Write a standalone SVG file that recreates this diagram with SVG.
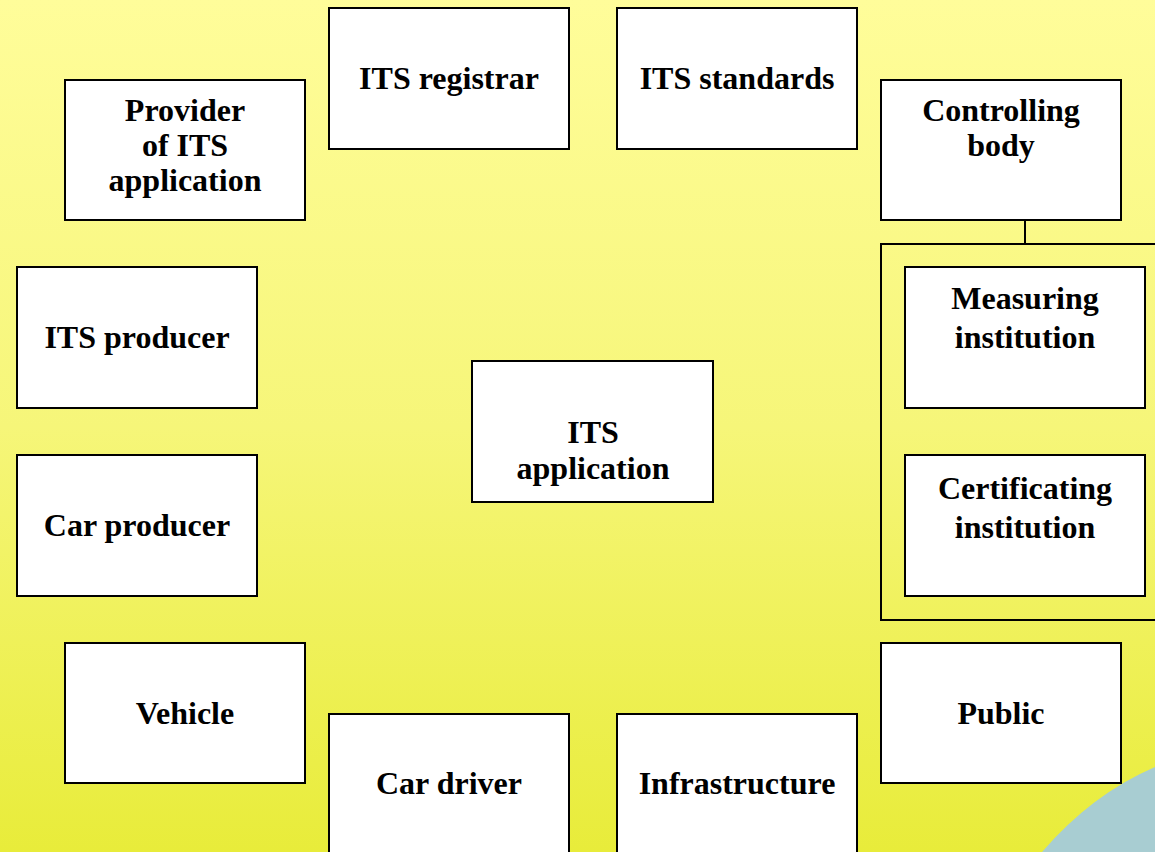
<svg xmlns="http://www.w3.org/2000/svg" width="1155" height="852" viewBox="0 0 1155 852">
<defs>
<linearGradient id="bg" x1="0" y1="0" x2="0" y2="1">
<stop offset="0" stop-color="#fffd9a"/>
<stop offset="0.5" stop-color="#f6f679"/>
<stop offset="1" stop-color="#e8ec3a"/>
</linearGradient>
<style>
.box{fill:#ffffff;stroke:#000000;stroke-width:2}
.grp{fill:none;stroke:#000000;stroke-width:2}
.t{font-family:"Liberation Serif","Times New Roman",serif;font-weight:bold;font-size:32px;fill:#000000;text-anchor:middle}
.c{fill:none;stroke:#000000;stroke-width:2}
</style>
</defs>
<rect x="0" y="0" width="1155" height="852" fill="url(#bg)"/>
<path d="M1042,852 Q1092,794 1155,767 L1155,852 Z" fill="#a8cdd2"/>
<g id="connectors">
<line class="c" x1="1025" y1="220" x2="1025" y2="244"/>
</g>
<g id="group-institutions">
<rect class="grp" x="881" y="244" width="290" height="376"/>
</g>
<g id="provider">
<rect class="box" x="65" y="80" width="240" height="140"/>
<text class="t" x="185" y="121">Provider</text>
<text class="t" x="185" y="156">of ITS</text>
<text class="t" x="185" y="191">application</text>
</g>
<g id="registrar">
<rect class="box" x="329" y="8" width="240" height="141"/>
<text class="t" x="449" y="89">ITS registrar</text>
</g>
<g id="standards">
<rect class="box" x="617" y="8" width="240" height="141"/>
<text class="t" x="737" y="89">ITS standards</text>
</g>
<g id="controlling">
<rect class="box" x="881" y="80" width="240" height="140"/>
<text class="t" x="1001" y="121">Controlling</text>
<text class="t" x="1001" y="156">body</text>
</g>
<g id="measuring">
<rect class="box" x="905" y="267" width="240" height="141"/>
<text class="t" x="1025" y="309">Measuring</text>
<text class="t" x="1025" y="348">institution</text>
</g>
<g id="certificating">
<rect class="box" x="905" y="455" width="240" height="141"/>
<text class="t" x="1025" y="499">Certificating</text>
<text class="t" x="1025" y="538">institution</text>
</g>
<g id="its-producer">
<rect class="box" x="17" y="267" width="240" height="141"/>
<text class="t" x="137" y="348">ITS producer</text>
</g>
<g id="car-producer">
<rect class="box" x="17" y="455" width="240" height="141"/>
<text class="t" x="137" y="536">Car producer</text>
</g>
<g id="its-application">
<rect class="box" x="472" y="361" width="241" height="141"/>
<text class="t" x="593" y="443">ITS</text>
<text class="t" x="593" y="479">application</text>
</g>
<g id="vehicle">
<rect class="box" x="65" y="643" width="240" height="140"/>
<text class="t" x="185" y="724">Vehicle</text>
</g>
<g id="public">
<rect class="box" x="881" y="643" width="240" height="140"/>
<text class="t" x="1001" y="724">Public</text>
</g>
<g id="car-driver">
<rect class="box" x="329" y="714" width="240" height="160"/>
<text class="t" x="449" y="794">Car driver</text>
</g>
<g id="infrastructure">
<rect class="box" x="617" y="714" width="240" height="160"/>
<text class="t" x="737" y="794">Infrastructure</text>
</g>
</svg>
